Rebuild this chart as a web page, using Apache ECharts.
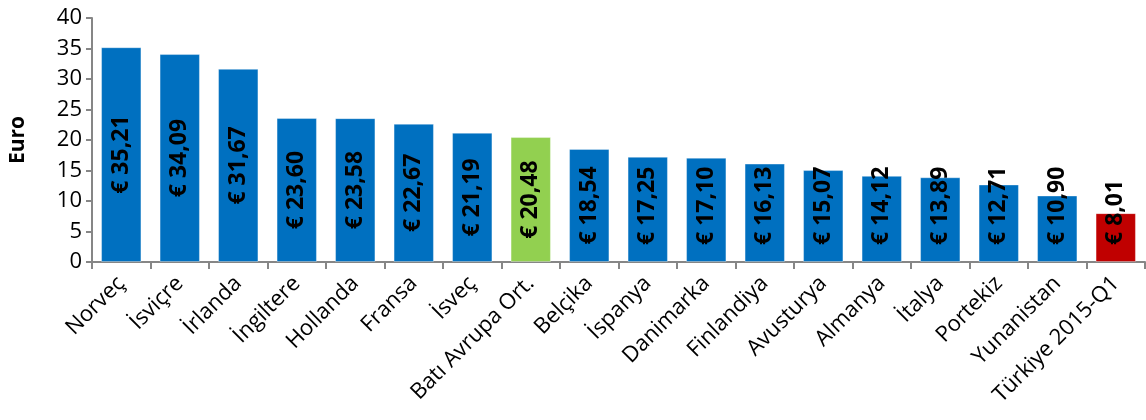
<!DOCTYPE html>
<html>
<head>
<meta charset="utf-8">
<script src="https://cdn.jsdelivr.net/npm/echarts@6/dist/echarts.min.js"></script>
<style>html,body{margin:0;padding:0;background:#fff;}#c{width:1146px;height:420px;}</style>
</head>
<body>
<div id="c"></div>
<script>
var categories = ['Norveç','İsviçre','İrlanda','İngiltere','Hollanda','Fransa','İsveç','Batı Avrupa Ort.','Belçika','İspanya','Danimarka','Finlandiya','Avusturya','Almanya','İtalya','Portekiz','Yunanistan','Türkiye 2015-Q1'];
var values = [35.21,34.09,31.67,23.60,23.58,22.67,21.19,20.48,18.54,17.25,17.10,16.13,15.07,14.12,13.89,12.71,10.90,8.01];
var barColors = ['#0070C0','#0070C0','#0070C0','#0070C0','#0070C0','#0070C0','#0070C0','#92D050','#0070C0','#0070C0','#0070C0','#0070C0','#0070C0','#0070C0','#0070C0','#0070C0','#0070C0','#C00000'];
var yTicks = {min:0, max:40, interval:5};
var FONT = '"Open Sans", sans-serif';

var chart = echarts.init(document.getElementById('c'), null, {renderer:'canvas'});
chart.setOption({
  animation:false,
  grid:{left:92, top:18, right:1, bottom:158, containLabel:false},
  xAxis:{
    type:'category', data:categories,
    axisLine:{lineStyle:{color:'#868686', width:2}},
    axisTick:{show:true, length:7, lineStyle:{color:'#868686', width:2}},
    axisLabel:{rotate:45, interval:0, margin:18, color:'#000', fontFamily:FONT, fontSize:22}
  },
  yAxis:{
    type:'value', min:yTicks.min, max:yTicks.max, interval:yTicks.interval,
    name:'Euro', nameLocation:'middle', nameGap:63, nameRotate:90,
    nameTextStyle:{fontFamily:FONT, fontWeight:'bold', fontSize:21, color:'#000'},
    splitLine:{show:false},
    axisLine:{show:true, lineStyle:{color:'#868686', width:2}},
    axisTick:{show:true, length:6, lineStyle:{color:'#868686', width:2}},
    axisLabel:{color:'#000', fontFamily:FONT, fontSize:22, margin:10}
  },
  series:[{
    type:'bar', barCategoryGap:'31%',
    data: values.map(function(v,i){return {value:v, itemStyle:{color:barColors[i]}};}),
    itemStyle:{borderColor:'rgba(255,255,255,0.35)', borderWidth:1},
    label:{show:true, position:'inside', rotate:90, color:'#000', fontFamily:FONT, fontWeight:'bold', fontSize:23,
      formatter:function(p){return '€ ' + p.value.toFixed(2).replace('.', ',');}}
  }],
  labelLayout:function(p){
    var r = p.rect;
    var half = p.labelRect.height / 2;
    var cy = r.y + r.height / 2;
    var limit = r.y + r.height - 17 - half;
    return {x: r.x + r.width / 2, y: Math.min(cy, limit), align:'center', verticalAlign:'middle'};
  }
});
</script>
</body>
</html>
